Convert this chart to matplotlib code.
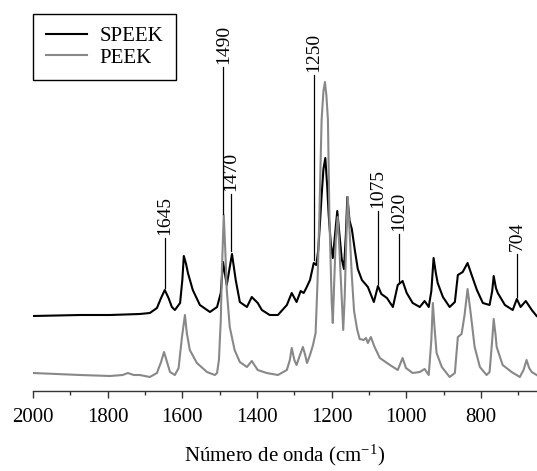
import numpy as np
import matplotlib
matplotlib.use('Agg')
import matplotlib.pyplot as plt
from matplotlib.ticker import MultipleLocator

# Espectros FTIR (número de onda en cm-1, intensidad en u.a.)
speek_wn = [2000, 1874, 1794, 1714, 1687, 1668, 1657, 1647, 1637, 1628, 1620, 1606, 1600,
            1596, 1590, 1585, 1572, 1553, 1526, 1507, 1497, 1491, 1481, 1467, 1457, 1446,
            1427, 1414, 1398, 1387, 1366, 1344, 1320, 1307, 1294, 1283, 1275, 1268, 1258,
            1248, 1241, 1236, 1231, 1227, 1222, 1217, 1212, 1208, 1202, 1197, 1191, 1185,
            1179, 1173, 1167, 1162, 1158, 1152, 1146, 1138, 1130, 1119, 1103, 1087, 1076,
            1067, 1052, 1036, 1023, 1010, 999, 983, 964, 951, 940, 933, 927, 921, 916, 902,
            884, 870, 862, 849, 836, 825, 811, 795, 777, 770, 766, 760, 755, 736, 715, 704,
            694, 680, 664, 651]
speek_int = [75, 76, 76, 77, 78, 83, 93, 101, 93, 84, 81, 88, 111,
             135, 127, 118, 101, 86, 79, 84, 98, 129, 106, 137, 111, 89,
             84, 94, 88, 81, 76, 76, 86, 98, 89, 100, 98, 103, 111,
             128, 126, 141, 170, 195, 222, 233, 205, 176, 146, 133, 156, 180,
             156, 132, 122, 156, 194, 170, 162, 141, 122, 111, 104, 89, 105,
             97, 93, 84, 106, 110, 98, 88, 84, 90, 84, 100, 133, 118, 108, 94,
             84, 89, 116, 119, 128, 116, 101, 88, 86, 100, 115, 103, 98, 86, 81, 92,
             84, 90, 81, 75]

peek_wn = [2000, 1874, 1794, 1760, 1746, 1730, 1714, 1687, 1668, 1657, 1649, 1641, 1633,
           1620, 1610, 1601, 1593, 1588, 1580, 1561, 1534, 1513, 1507, 1502, 1497, 1494,
           1489, 1485, 1481, 1473, 1460, 1446, 1427, 1414, 1398, 1374, 1344, 1320, 1312,
           1307, 1300, 1294, 1285, 1277, 1271, 1266, 1258, 1250, 1243, 1238, 1233, 1227,
           1222, 1218, 1214, 1210, 1206, 1200, 1197, 1193, 1189, 1184, 1179, 1174, 1169,
           1165, 1161, 1157, 1152, 1146, 1140, 1132, 1125, 1114, 1108, 1103, 1095, 1085,
           1071, 1044, 1023, 1010, 1001, 983, 964, 951, 940, 933, 929, 924, 919, 905,
           884, 870, 862, 852, 844, 836, 828, 817, 803, 785, 777, 770, 766, 761, 758,
           742, 718, 696, 686, 678, 671, 664, 651]
peek_int = [18, 16, 15, 16, 18, 16, 16, 14, 18, 29, 39, 29, 19,
            16, 23, 54, 76, 58, 41, 28, 19, 16, 18, 31, 71, 121,
            176, 141, 101, 64, 41, 29, 24, 30, 21, 18, 16, 21, 31,
            43, 31, 26, 36, 44, 36, 28, 36, 46, 58, 108, 174, 271,
            300, 309, 295, 271, 174, 90, 68, 111, 151, 174, 140, 100, 61,
            95, 150, 194, 160, 115, 80, 62, 52, 51, 53, 48, 54, 44,
            33, 26, 21, 33, 23, 18, 19, 22, 16, 51, 88, 61, 38, 24,
            14, 18, 54, 57, 76, 102, 79, 44, 24, 16, 19, 51, 72, 56, 44,
            26, 19, 14, 21, 31, 23, 19, 16]

# Bandas señaladas: posición, base de la línea y extremo superior (u.a.)
band_labels = ['1645', '1490', '1470', '1250', '1075', '1020', '704']
band_pos = [1647, 1490, 1470, 1248, 1076, 1020, 704]
band_base = [103, 177, 140, 131, 107, 108, 94]
band_top = [153, 324, 197, 316, 180, 157, 137]

COLOR_SPEEK = '#000000'
COLOR_PEEK = '#888888'
COLOR_EJE = '#333333'

plt.rcParams['font.family'] = ['Liberation Serif', 'DejaVu Serif']
plt.rcParams['mathtext.fontset'] = 'custom'
plt.rcParams['mathtext.rm'] = 'Liberation Serif'
plt.rcParams['mathtext.it'] = 'Liberation Serif:italic'

fig = plt.figure(figsize=(5.37, 4.71), dpi=100)
ax = fig.add_axes([33 / 537, 80 / 471, 504 / 537, 391 / 471])

ax.plot(speek_wn, speek_int, color=COLOR_SPEEK, lw=1.5, label='SPEEK')
ax.plot(peek_wn, peek_int, color=COLOR_PEEK, lw=1.5, label='PEEK')

for lab, x, y0, y1 in zip(band_labels, band_pos, band_base, band_top):
    ax.plot([x, x], [y0, y1], color='black', lw=0.9)
    ax.text(x, y1 + 3, lab, rotation=90, ha='center', va='bottom', fontsize=14)

ax.set_xlim(2000, 650)
ax.set_ylim(0, 391)
ax.set_yticks([])
for lado in ['top', 'right', 'left']:
    ax.spines[lado].set_visible(False)
ax.spines['bottom'].set_color(COLOR_EJE)
ax.spines['bottom'].set_linewidth(1.0)

ax.xaxis.set_major_locator(MultipleLocator(200))
ax.xaxis.set_minor_locator(MultipleLocator(100))
ax.tick_params(axis='x', which='major', direction='out', length=5, width=1.0,
               color=COLOR_EJE, labelsize=15, pad=7.5)
ax.tick_params(axis='x', which='minor', direction='out', length=3, width=1.0,
               color=COLOR_EJE)
ax.set_xlabel('Número de onda (cm$^{-1}$)', fontsize=15, labelpad=11)

leg = ax.legend(loc='upper left', bbox_to_anchor=(33 / 537, 1 - 14 / 471),
                bbox_transform=fig.transFigure, borderaxespad=0, fontsize=15,
                frameon=True, fancybox=False, edgecolor='black', framealpha=1,
                handlelength=2.0, handletextpad=0.6, labelspacing=0.1,
                borderpad=0.6)
leg.get_frame().set_linewidth(1.0)

fig.savefig('out.png', dpi=100)
